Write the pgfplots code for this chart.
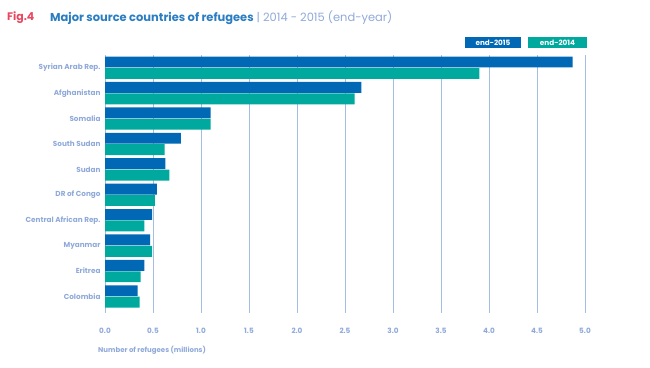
\documentclass[border=0pt]{standalone}
\usepackage{pgfplots}
\pgfplotsset{compat=1.18}
\usepackage{fontspec}
\setmainfont{Poppins}
\definecolor{cblue}{HTML}{0068B4}
\definecolor{cteal}{HTML}{00A99D}
\definecolor{lab}{HTML}{8FA9D9}
\definecolor{gridc}{HTML}{A3BCE6}
\definecolor{figred}{HTML}{E8485E}
\definecolor{ttl}{HTML}{2A7DC1}
\begin{document}
\begin{tikzpicture}
\useasboundingbox (0,0) rectangle (650bp,368bp);
\begin{axis}[
  at={(105bp,55bp)}, anchor=south west,
  scale only axis, width=480bp, height=258bp,
  xbar, bar width=0.43,
  xmin=0, xmax=5, ymin=-0.5, ymax=9.65,
  y dir=reverse,
  axis line style={draw=none},
  xtick={0,0.5,...,5}, xticklabel style={/pgf/number format/.cd,fixed,fixed zerofill,precision=1},
  xmajorgrids, grid style={color=gridc, line width=0.9pt},
  ytick={0,...,9},
  yticklabels={Syrian Arab Rep.,Afghanistan,Somalia,South Sudan,Sudan,DR of Congo,Central African Rep.,Myanmar,Eritrea,Colombia},
  major tick length=0pt,
  tick label style={font=\fontsize{7.3}{9}\selectfont\bfseries, text=lab},
  /pgf/number format/assume math mode=true,
  xticklabel shift=12bp,
  yticklabel style={xshift=-1bp},
  clip=false,
]
\addplot[fill=cblue, draw=none, bar shift=-0.225] coordinates {
(4.87,0) (2.67,1) (1.10,2) (0.79,3) (0.63,4) (0.54,5) (0.49,6) (0.47,7) (0.41,8) (0.34,9)};
\addplot[fill=cteal, draw=none, bar shift=0.225] coordinates {
(3.90,0) (2.60,1) (1.10,2) (0.62,3) (0.67,4) (0.52,5) (0.41,6) (0.49,7) (0.37,8) (0.36,9)};
\end{axis}
\node[anchor=west, text=lab, font=\fontsize{7}{9}\selectfont\bfseries, inner sep=0] at (98bp,18bp) {Number of refugees (millions)};
\node[anchor=west, font=\fontsize{11}{13}\selectfont\bfseries, text=figred, inner sep=0] at (7bp,350bp) {Fig.4};
\node[anchor=west, font=\fontsize{11.5}{13}\selectfont, inner sep=0] at (50bp,350bp) {\textcolor{ttl}{\bfseries Major source countries of refugees} \textcolor{lab}{| 2014 - 2015 (end-year)}};
\fill[cblue] (465bp,320bp) rectangle (521bp,331bp);
\node[text=white, font=\fontsize{7.3}{9}\selectfont\bfseries] at (493bp,325.5bp) {end-2015};
\fill[cteal] (528bp,320bp) rectangle (587bp,331bp);
\node[text=white, font=\fontsize{7.3}{9}\selectfont\bfseries] at (557.5bp,325.5bp) {end-2014};
\end{tikzpicture}
\end{document}
